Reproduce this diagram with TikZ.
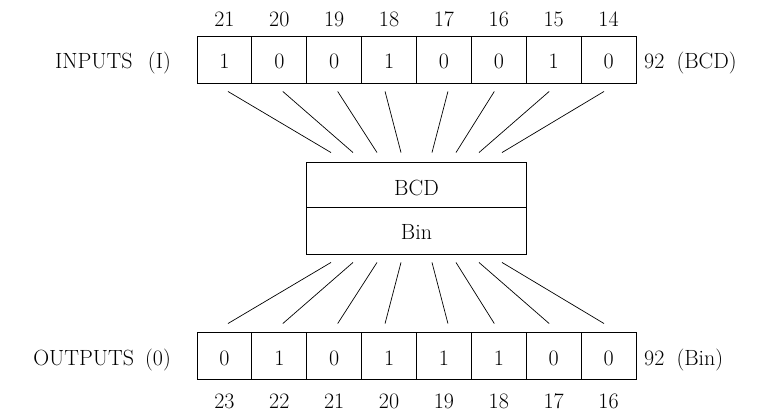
\documentclass[tikz,border=0pt]{standalone}
\usepackage{fontspec}
\usetikzlibrary{calc}
\begin{document}
\begin{tikzpicture}[x=1pt,y=-1pt,
  txt/.style={font=\fontsize{22}{26}\selectfont},
  numtxt/.style={font=\fontsize{22}{26}\selectfont\addfontfeature{LetterSpace=12}},
  cell/.style={draw, line width=0.9pt, minimum width=54.875pt, minimum height=47pt, inner sep=0pt, text height=19pt, text depth=0pt, txt},
  lbl/.style={inner sep=0pt, txt},
  numlbl/.style={inner sep=0pt, anchor=base, numtxt},
  convbox/.style={draw, line width=0.9pt, minimum width=219.5pt, inner sep=0pt, text depth=0pt, txt},
  wire/.style={line width=0.7pt}]
\useasboundingbox (0,0) rectangle (764,412);
% input register
\foreach \v [count=\i] in {1,0,0,1,0,0,1,0}
  \node[cell] (in\i) at ({197+54.875*(\i-0.5)},59.5) {\v};
\foreach \n [count=\i] in {21,20,19,18,17,16,15,14}
  \node[numlbl] (tn\i) at ({197+54.875*(\i-0.5)},27) {\n};
% output register
\foreach \v [count=\i] in {0,1,0,1,1,1,0,0}
  \node[cell] (out\i) at ({197+54.875*(\i-0.5)},355.5) {\v};
\foreach \n [count=\i] in {23,22,21,20,19,18,17,16}
  \node[numlbl] (bn\i) at ({197+54.875*(\i-0.5)},408) {\n};
% labels
\node[lbl, anchor=base east] (inl) at (171,69) {INPUTS\hspace{0.7em}{\addfontfeature{LetterSpace=15}(I)}};
\node[lbl, anchor=base west] (inr) at (644,69) {{\addfontfeature{LetterSpace=30}92}\hspace{0.55em}(BCD)};
\node[lbl, anchor=base east] (outl) at (171,365) {OUTPUTS\hspace{0.5em}{\addfontfeature{LetterSpace=35}(0)}};
\node[lbl, anchor=base west] (outr) at (644,365) {{\addfontfeature{LetterSpace=30}92}\hspace{0.55em}(Bin)};
% converter
\node[convbox, minimum height=45pt, text height=21pt] (bcd) at (416.5,184.5) {BCD};
\node[convbox, minimum height=47pt, text height=17pt] (bin) at (416.5,230.5) {Bin};
% wires
\foreach \ds/\de [count=\i] in {3.5/-85.5, 3.5/-63.5, 3.5/-39.5, -4/-15.5, 4/15.5, -4.5/39.5, -4.5/62.5, -4.5/85.5} {
  \draw[wire] ($(in\i.south)+(\ds,8)$) -- ($(bcd.north)+(\de,-9)$);
  \draw[wire] ($(bin.south)+(\de,8)$) -- ($(out\i.north)+(\ds,-8)$);
}
\end{tikzpicture}
\end{document}
